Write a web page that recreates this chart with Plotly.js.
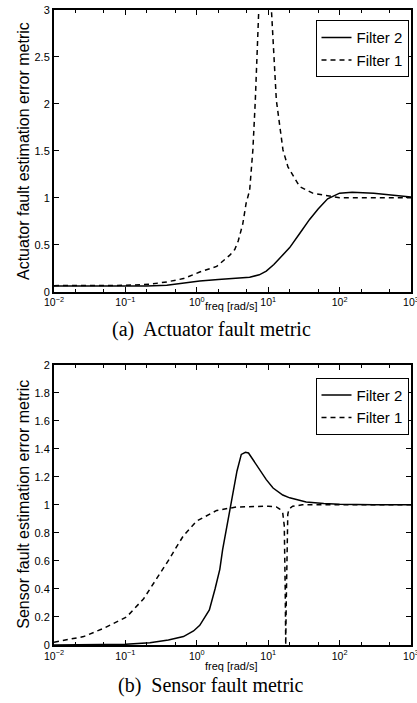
<!DOCTYPE html>
<html>
<head>
<meta charset="utf-8">
<script src="https://cdn.plot.ly/plotly-3.0.1.min.js"></script>
<style>
html,body{margin:0;padding:0;background:#fff;}
#chart{width:417px;height:703px;}
</style>
</head>
<body>
<div id="chart"></div>
<script>
// ---------- data ----------
// (a) Actuator fault metric
const actFreqF2 = [0.01,0.05,0.1,0.2,0.38,0.65,1.1,2,2.9,4,5.5,7.5,9.4,12,16,20,27.6,38,50,68,100,150,300,600,1000];
const actValF2  = [0.06,0.057,0.056,0.06,0.07,0.095,0.115,0.13,0.138,0.145,0.155,0.18,0.22,0.29,0.39,0.47,0.62,0.77,0.88,0.99,1.05,1.06,1.05,1.03,1.01];
const actFreqF1 = [0.01,0.05,0.1,0.22,0.38,0.65,1.1,1.9,2.9,3.4,3.8,4.4,4.9,5.5,6.1,6.6,7.4,8,8.7,9.3,10,11.1,13,16.1,18.9,27.6,42,68,100,300,1000];
const actValF1  = [0.065,0.065,0.068,0.08,0.105,0.14,0.21,0.27,0.39,0.45,0.54,0.72,0.94,1.08,1.51,2.04,3.0,3.8,4.8,5.0,4.2,3.0,2.04,1.51,1.33,1.12,1.05,1.02,1.0,1.0,1.0];
// (b) Sensor fault metric
const senFreqF2 = [0.01,0.05,0.1,0.22,0.4,0.65,0.9,1.1,1.5,1.8,2.1,2.3,2.75,3.0,3.3,3.65,4.2,4.8,5.3,6.3,7.6,9.4,11.7,16,20,34,60,100,300,1000];
const senValF2  = [0.0,0.002,0.005,0.016,0.035,0.06,0.1,0.14,0.25,0.4,0.54,0.68,0.9,1.0,1.12,1.24,1.36,1.375,1.37,1.31,1.25,1.18,1.12,1.07,1.05,1.02,1.01,1.005,1.0,1.0];
const senFreqF1 = [0.01,0.026,0.05,0.104,0.18,0.3,0.42,0.52,0.65,1,1.9,3.6,6,10,13,14.5,16,16.8,17.3,17.6,17.9,18.3,18.8,19.5,22,30,100,1000];
const senValF1  = [0.02,0.06,0.12,0.2,0.33,0.5,0.62,0.7,0.78,0.885,0.96,0.985,0.99,0.99,0.985,0.97,0.94,0.85,0.4,0.0,0.3,0.8,0.93,0.97,0.99,1.0,1.0,1.0];

const seriesNames = ['Filter 2','Filter 1'];
const xTickVals = [0.01,0.1,1,10,100,1000];
const xTickText = ['10<sup>−2</sup>','10<sup>−1</sup>','10<sup>0</sup>','10<sup>1</sup>','10<sup>2</sup>','10<sup>3</sup>'];
const actYTickVals = [0,0.5,1,1.5,2,2.5,3];
const actYTickText = ['0','0.5','1','1.5','2','2.5','3'];
const senYTickVals = [0,0.2,0.4,0.6,0.8,1,1.2,1.4,1.6,1.8,2];
const senYTickText = ['0','0.2','0.4','0.6','0.8','1','1.2','1.4','1.6','1.8','2'];
const xTitle = 'freq [rad/s]';
const actYTitle = 'Actuator fault estimation error metric';
const senYTitle = 'Sensor fault estimation error metric';
const actCaption = '(a)  Actuator fault metric';
const senCaption = '(b)  Sensor fault metric';

// ---------- traces ----------
const solid = {color:'#000', width:1.5, dash:'solid'};
const dashed = {color:'#000', width:1.5, dash:'5px,4px'};
const traces = [
  {x:actFreqF2, y:actValF2, name:seriesNames[0], mode:'lines', line:solid, xaxis:'x', yaxis:'y', legend:'legend'},
  {x:actFreqF1, y:actValF1, name:seriesNames[1], mode:'lines', line:dashed, xaxis:'x', yaxis:'y', legend:'legend'},
  {x:senFreqF2, y:senValF2, name:seriesNames[0], mode:'lines', line:solid, xaxis:'x2', yaxis:'y2', legend:'legend2'},
  {x:senFreqF1, y:senValF1, name:seriesNames[1], mode:'lines', line:dashed, xaxis:'x2', yaxis:'y2', legend:'legend2'}
];

const tickFont = {family:'Liberation Sans, Arial, sans-serif', size:11, color:'#000'};
function xAxis(anchor){
  return {
    type:'log', range:[-2,3], anchor:anchor, domain:[0,1],
    tickvals:xTickVals, ticktext:xTickText, tickfont:{family:tickFont.family,size:10.5,color:'#000'},
    ticklabeloverflow:'allow',
    ticks:'inside', ticklen:5, tickwidth:1, tickcolor:'#000',
    minor:{ticks:'inside', ticklen:3, tickwidth:1, tickcolor:'#000', showgrid:false},
    showline:true, linewidth:2, linecolor:'#000', mirror:'allticks',
    showgrid:false, zeroline:false, fixedrange:true
  };
}
function yAxis(anchor, domain, range, tv, tt){
  return {
    range:range, anchor:anchor, domain:domain,
    tickvals:tv, ticktext:tt, tickfont:tickFont,
    ticks:'inside', ticklen:5, tickwidth:1, tickcolor:'#000',
    showline:true, linewidth:2, linecolor:'#000', mirror:'allticks',
    showgrid:false, zeroline:false, fixedrange:true
  };
}

const legendCommon = {
  xref:'paper', yref:'paper', xanchor:'right', yanchor:'top',
  bgcolor:'#fff', bordercolor:'#000', borderwidth:1,
  font:{family:'Liberation Sans, Arial, sans-serif', size:15, color:'#000'},
  tracegroupgap:0, itemwidth:30
};

const annFont = {family:'Liberation Sans, Arial, sans-serif', color:'#000'};
const capFont = {family:'Liberation Serif, Times New Roman, serif', size:20, color:'#000'};

const layout = {
  width:417, height:703,
  margin:{l:54, r:5.5, t:10, b:57.5, pad:0},
  paper_bgcolor:'#fff', plot_bgcolor:'#fff',
  showlegend:true,
  xaxis:xAxis('y'),
  yaxis:yAxis('x',[0.5563,1],[0,3],actYTickVals,actYTickText),
  xaxis2:xAxis('y2'),
  yaxis2:yAxis('x2',[0,0.4414],[0,2],senYTickVals,senYTickText),
  legend:Object.assign({x:0.993, y:0.984}, legendCommon),
  legend2:Object.assign({x:0.993, y:0.421}, legendCommon),
  annotations:[
    {text:actYTitle, xref:'paper', yref:'paper', x:-0.0839, y:0.778, xanchor:'center', yanchor:'middle', textangle:-90, showarrow:false, font:Object.assign({size:16}, annFont)},
    {text:senYTitle, xref:'paper', yref:'paper', x:-0.0839, y:0.221, xanchor:'center', yanchor:'middle', textangle:-90, showarrow:false, font:Object.assign({size:16}, annFont)},
    {text:xTitle, xref:'paper', yref:'paper', x:0.498, y:0.5335, xanchor:'center', yanchor:'middle', showarrow:false, font:Object.assign({size:11}, annFont)},
    {text:xTitle, xref:'paper', yref:'paper', x:0.498, y:-0.0323, xanchor:'center', yanchor:'middle', showarrow:false, font:Object.assign({size:11}, annFont)},
    {text:actCaption, xref:'paper', yref:'paper', x:0.4406, y:0.4965, xanchor:'center', yanchor:'middle', showarrow:false, font:capFont},
    {text:senCaption, xref:'paper', yref:'paper', x:0.4406, y:-0.0637, xanchor:'center', yanchor:'middle', showarrow:false, font:capFont}
  ]
};

Plotly.newPlot('chart', traces, layout, {staticPlot:true, displayModeBar:false});
</script>
</body>
</html>
